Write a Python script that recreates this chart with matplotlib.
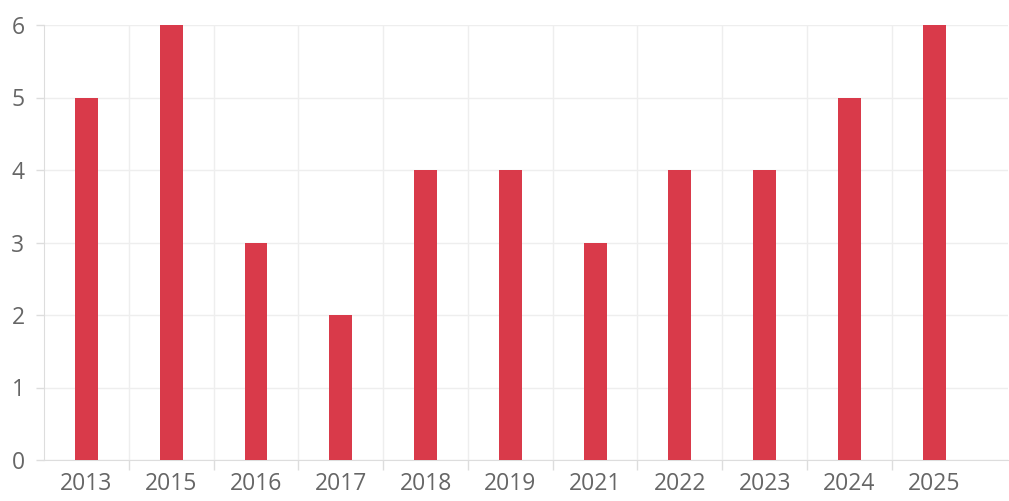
import matplotlib
matplotlib.use("Agg")
import matplotlib.pyplot as plt
import numpy as np

# data
years = ['2013', '2015', '2016', '2017', '2018', '2019', '2021', '2022', '2023', '2024', '2025']
counts = [5, 6, 3, 2, 4, 4, 3, 4, 4, 5, 6]

plt.rcParams['font.family'] = ['Open Sans', 'DejaVu Sans']

fig = plt.figure(figsize=(10.09, 5.01), dpi=100)
ax = fig.add_axes([44/1009, 41/501, 964/1009, 435/501])

x = np.arange(len(years))
ax.bar(x, counts, width=0.27, color='#d93a4a', zorder=3)

ax.set_xlim(-0.5, 10.87)
ax.set_ylim(0, 6)

ax.set_xticks(x)
ax.set_xticklabels(years)
# category separators (none after the last one)
ax.set_xticks(np.arange(len(years) - 1) + 0.5, minor=True)
ax.set_yticks(range(7))

ax.tick_params(axis='x', which='major', length=0, pad=9, labelsize=16.5, labelcolor='#666666')
ax.tick_params(axis='x', which='minor', length=7, color='#dddddd', width=1)
ax.tick_params(axis='y', length=6, color='#dddddd', width=1, pad=8, labelsize=16.5, labelcolor='#666666')

ax.grid(axis='y', color='#eeeeee', linewidth=1, zorder=0)
ax.grid(axis='x', which='minor', color='#eeeeee', linewidth=1, zorder=0)
ax.grid(axis='x', which='major', visible=False)

for s in ['top', 'right']:
    ax.spines[s].set_visible(False)
ax.spines['left'].set_color('#dddddd')
ax.spines['bottom'].set_color('#dddddd')

fig.savefig('out.png', dpi=100)
